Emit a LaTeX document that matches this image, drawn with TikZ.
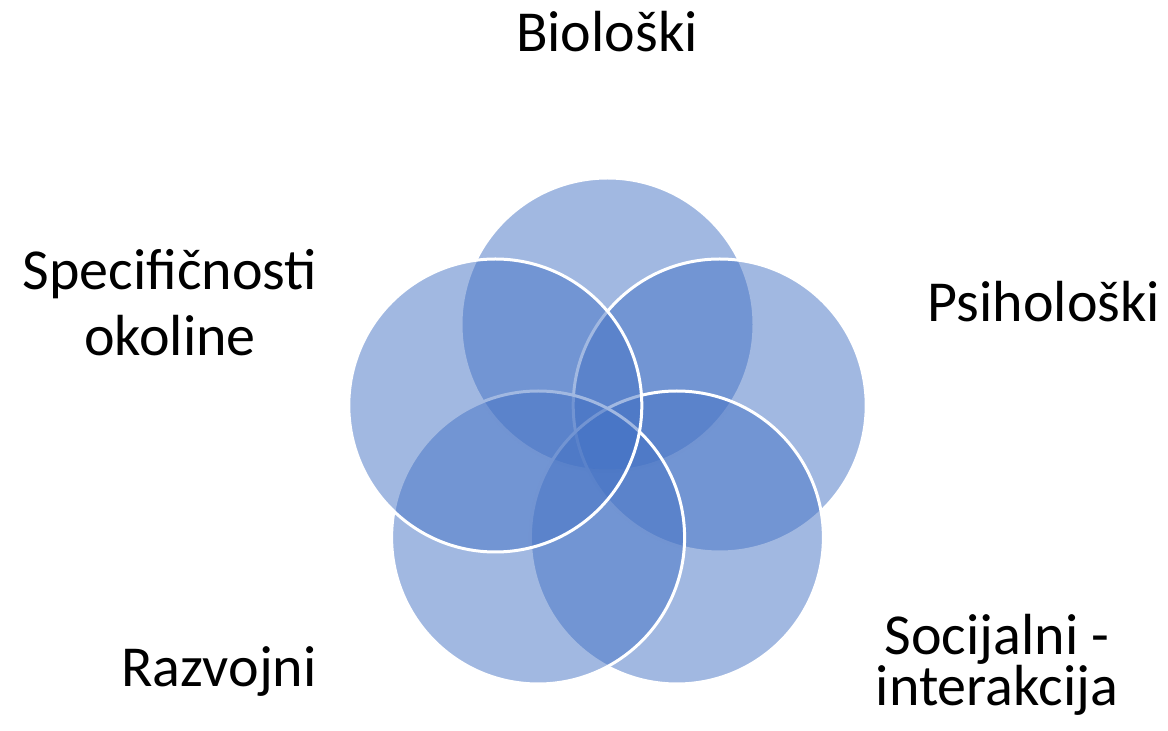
\documentclass[tikz,border=0pt]{standalone}
\usepackage{fontspec}
\setmainfont{Carlito}
\usepackage{tikz}
\usetikzlibrary{positioning}
\definecolor{VennBlue}{RGB}{68,114,196}

\tikzset{
  vennring/.style={circle,fill=VennBlue,fill opacity=0.5,draw=white,draw opacity=1,line width=1.5pt,minimum size=146.5pt,inner sep=0pt},
  venntext/.style={anchor=base,align=center,inner sep=0pt,font=\fontsize{29pt}{33pt}\selectfont}
}

\begin{document}
\begin{tikzpicture}[x=0.5pt,y=-0.5pt]
    \useasboundingbox (0,0) rectangle (1168,731);
    % circles, drawn in this order so later fills veil earlier rims
    \node[vennring] (bio) at (607.5,324.5) {};
    \node[vennring] (psi) at (719.7,405.5) {};
    \node[vennring] (soc) at (676.9,537.5) {};
    \node[vennring] (raz) at (538.1,537.5) {};
    \node[vennring] (oko) at (495.3,405.5) {};
    % labels (base = baseline of the last line)
    \node[venntext] (biolbl) at (607,52) {Biološki};
    \node[venntext] (psilbl) at (1044,322) {Psihološki};
    \node[venntext] (okolbl) at (170,356) {Specifičnosti\\okoline};
    \node[venntext] (razlbl) at (219,687) {Razvojni};
    \node[venntext,font=\fontsize{29pt}{25.5pt}\selectfont] (soclbl) at (997,706) {Socijalni -\\interakcija};
\end{tikzpicture}
\end{document}
